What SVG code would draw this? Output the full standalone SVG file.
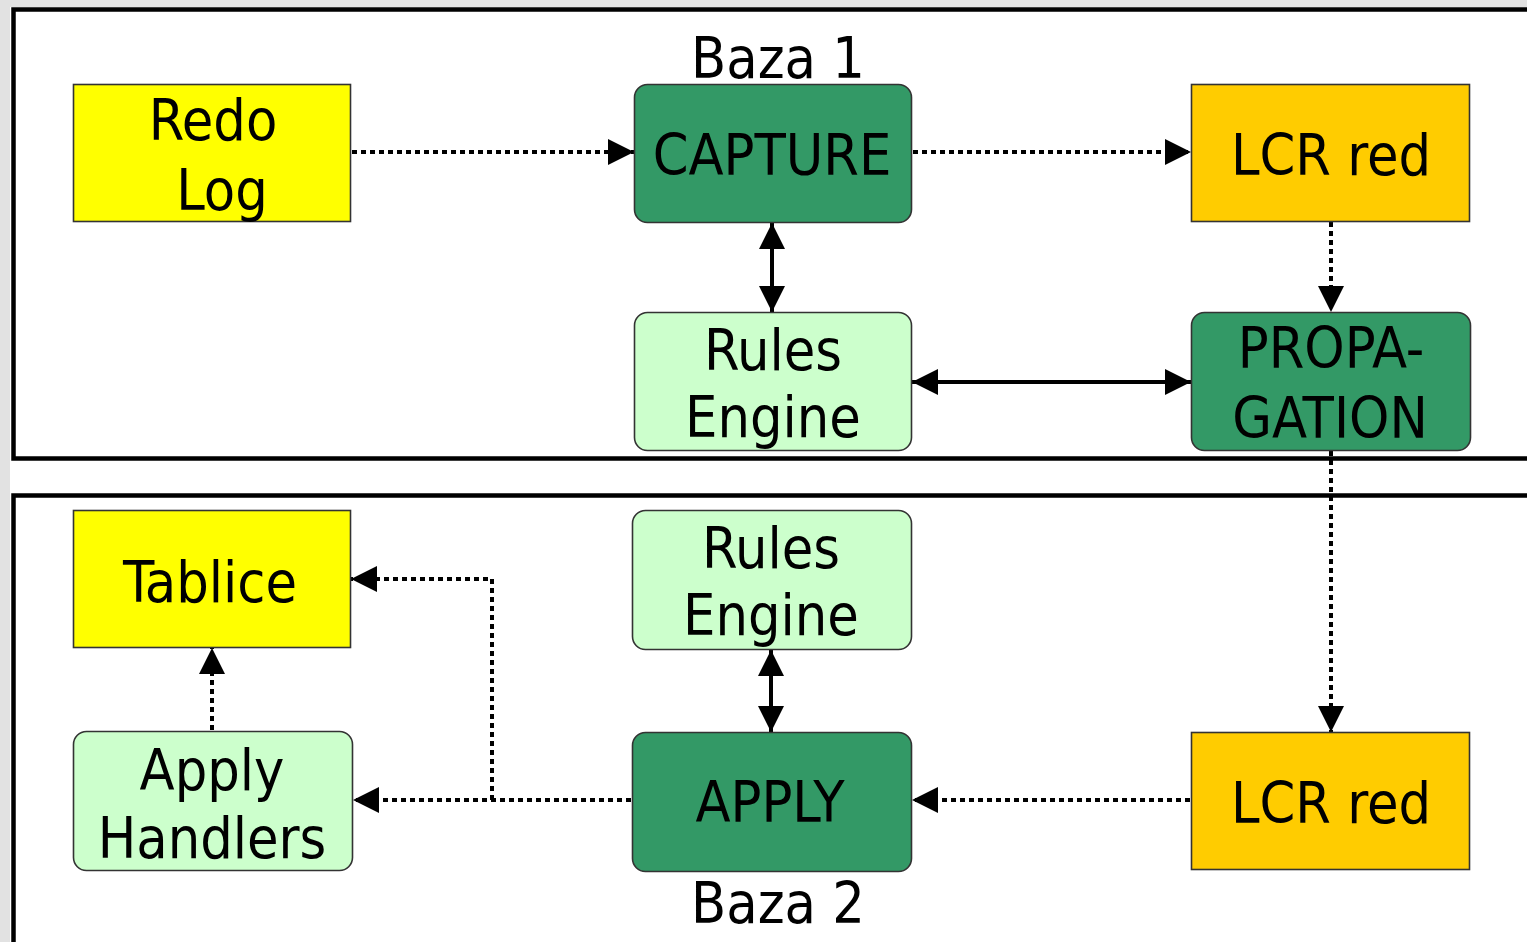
<svg xmlns="http://www.w3.org/2000/svg" width="1527" height="942" viewBox="0 0 1527 942">
<style>
.t{font-family:"DejaVu Sans Condensed","DejaVu Sans",sans-serif;font-stretch:condensed;font-size:57px;fill:#000;text-anchor:middle}
.n{stroke:#333;stroke-width:1.6}
.yel{fill:#ffff00}.org{fill:#ffcc00}.dk{fill:#339966}.lt{fill:#ccffcc}
.panel{fill:#fff;stroke:#000;stroke-width:4.5}
.dot{fill:none;stroke:#000;stroke-width:4;stroke-dasharray:5 4}
.sol{fill:none;stroke:#000;stroke-width:4}
</style>
<defs>
<marker id="ah" markerUnits="userSpaceOnUse" markerWidth="26" markerHeight="26" refX="26" refY="13" orient="auto-start-reverse" viewBox="0 0 26 26">
<path d="M0,0 L26,13 L0,26 z" fill="#000"/>
</marker>
</defs>
<rect x="0" y="0" width="1527" height="942" fill="#e2e2e2"/>
<rect x="10" y="7" width="1517" height="935" fill="#fff"/>
<rect class="panel" x="13.5" y="9.5" width="1530" height="449"/>
<rect class="panel" x="13.5" y="495.5" width="1530" height="460"/>

<g id="connectors">
<line class="dot" x1="352" y1="152" x2="634" y2="152" marker-end="url(#ah)"/>
<line class="dot" x1="913" y1="152" x2="1191" y2="152" marker-end="url(#ah)"/>
<line class="sol" x1="772" y1="223" x2="772" y2="312" marker-start="url(#ah)" marker-end="url(#ah)"/>
<line class="sol" x1="912" y1="382" x2="1191" y2="382" marker-start="url(#ah)" marker-end="url(#ah)"/>
<line class="dot" x1="1331" y1="222" x2="1331" y2="312" marker-end="url(#ah)"/>
<line class="dot" x1="1331" y1="451" x2="1331" y2="732" marker-end="url(#ah)"/>
<line class="dot" x1="1190" y1="800" x2="912" y2="800" marker-end="url(#ah)"/>
<line class="dot" x1="631" y1="800" x2="353" y2="800" marker-end="url(#ah)"/>
<polyline class="dot" points="492,800 492,579 351,579" marker-end="url(#ah)"/>
<line class="dot" x1="212" y1="730" x2="212" y2="648" marker-end="url(#ah)"/>
<line class="sol" x1="771" y1="650" x2="771" y2="732" marker-start="url(#ah)" marker-end="url(#ah)"/>
</g>

<g id="baza1"><text class="t" x="778" y="78">Baza 1</text></g>
<g id="redo-log">
<rect class="n yel" x="73.5" y="84.5" width="277" height="137"/>
<text class="t" x="213" y="140">Redo</text>
<text class="t" x="222" y="210">Log</text>
</g>
<g id="capture">
<rect class="n dk" x="634.5" y="84.5" width="277" height="138" rx="13"/>
<text class="t" x="772" y="175">CAPTURE</text>
</g>
<g id="lcr-red-1">
<rect class="n org" x="1191.5" y="84.5" width="278" height="137"/>
<text class="t" x="1331" y="175">LCR red</text>
</g>
<g id="rules-engine-1">
<rect class="n lt" x="634.5" y="312.5" width="277" height="138" rx="13"/>
<text class="t" x="773" y="370">Rules</text>
<text class="t" x="773" y="437">Engine</text>
</g>
<g id="propagation">
<rect class="n dk" x="1191.5" y="312.5" width="279" height="138" rx="13"/>
<text class="t" x="1331" y="368">PROPA-</text>
<text class="t" x="1330" y="438">GATION</text>
</g>
<g id="tablice">
<rect class="n yel" x="73.5" y="510.5" width="277" height="137"/>
<text class="t" x="210" y="602">Tablice</text>
</g>
<g id="rules-engine-2">
<rect class="n lt" x="632.5" y="510.5" width="279" height="139" rx="13"/>
<text class="t" x="771" y="568">Rules</text>
<text class="t" x="771" y="635">Engine</text>
</g>
<g id="apply-handlers">
<rect class="n lt" x="73.5" y="731.5" width="279" height="139" rx="13"/>
<text class="t" x="212" y="790">Apply</text>
<text class="t" x="212" y="858">Handlers</text>
</g>
<g id="apply">
<rect class="n dk" x="632.5" y="732.5" width="279" height="139" rx="13"/>
<text class="t" x="770" y="822">APPLY</text>
</g>
<g id="lcr-red-2">
<rect class="n org" x="1191.5" y="732.5" width="278" height="137"/>
<text class="t" x="1331" y="823">LCR red</text>
</g>
<g id="baza2"><text class="t" x="778" y="923">Baza 2</text></g>
</svg>
